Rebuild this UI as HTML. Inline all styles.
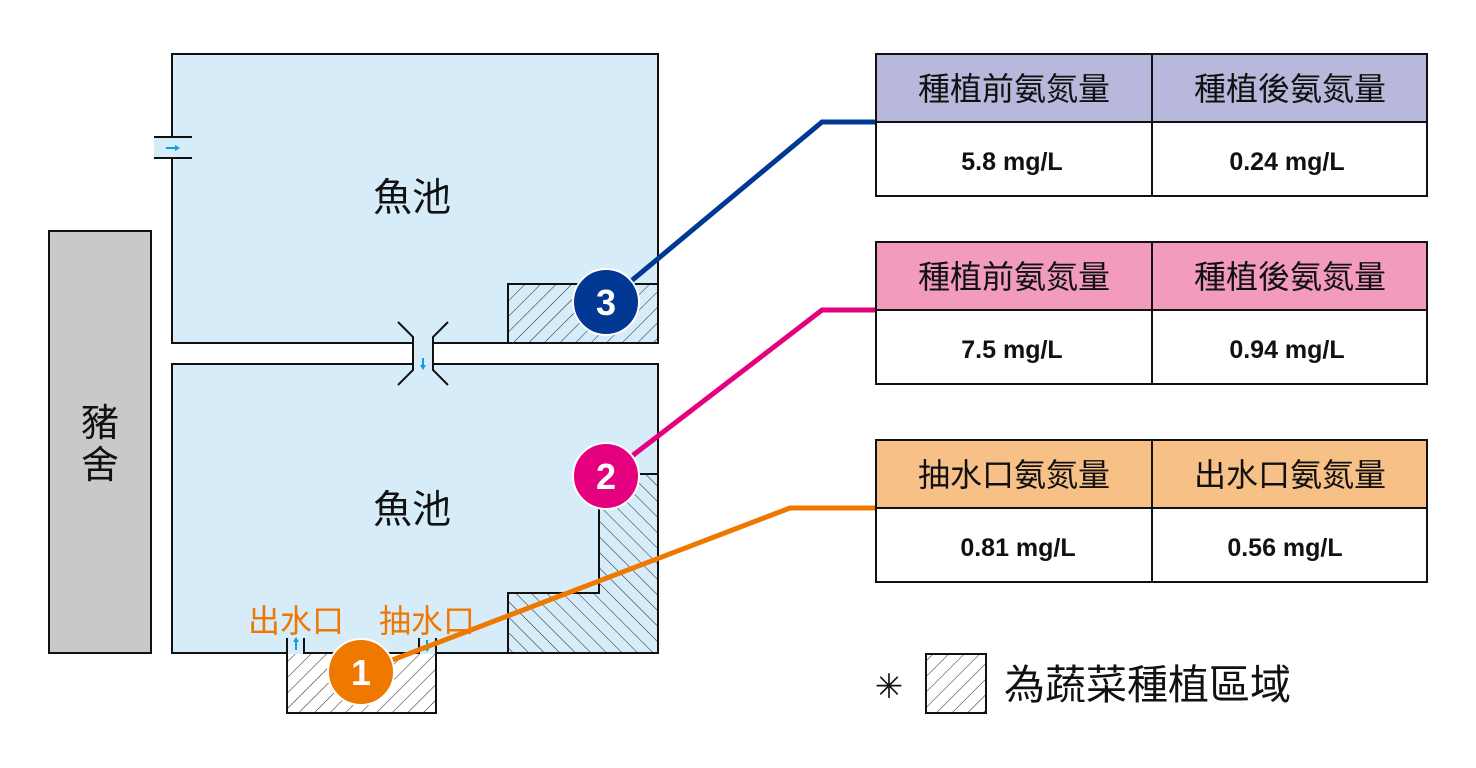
<!DOCTYPE html>
<html><head><meta charset="utf-8">
<style>
html,body{margin:0;padding:0;background:#fff;}
svg{display:block;}
text{font-family:"Liberation Sans","Noto Sans CJK TC",sans-serif;}
</style></head>
<body>
<svg width="1476" height="768" viewBox="0 0 1476 768" xmlns="http://www.w3.org/2000/svg">
<defs>
<pattern id="h1" patternUnits="userSpaceOnUse" width="11" height="11" patternTransform="rotate(45)">
<line x1="0" y1="0" x2="0" y2="11" stroke="#222" stroke-width="1"/>
</pattern>
<pattern id="h2" patternUnits="userSpaceOnUse" width="11" height="11" patternTransform="rotate(-45)">
<line x1="0" y1="0" x2="0" y2="11" stroke="#222" stroke-width="1"/>
</pattern>
</defs>

<rect x="49" y="231" width="102" height="422" fill="#c9c9ca" stroke="#111" stroke-width="2"/>
<text x="100" y="436" font-size="38" text-anchor="middle" fill="#111">豬</text>
<text x="100" y="478" font-size="38" text-anchor="middle" fill="#111">舍</text>

<rect x="172" y="54" width="486" height="289" fill="#d6ecf9" stroke="#111" stroke-width="2"/>
<rect x="154" y="137" width="20" height="21" fill="#d6ecf9"/>
<line x1="154" y1="137" x2="192" y2="137" stroke="#111" stroke-width="2"/>
<line x1="154" y1="158" x2="192" y2="158" stroke="#111" stroke-width="2"/>
<line x1="172" y1="138" x2="172" y2="157" stroke="#d6ecf9" stroke-width="3"/>
<line x1="166" y1="148" x2="176" y2="148" stroke="#0aa0dc" stroke-width="2"/>
<polygon points="180,148 175,145 175,151" fill="#0aa0dc"/>
<rect x="508" y="284" width="150" height="59" fill="url(#h1)" stroke="#111" stroke-width="2"/>
<text x="412" y="211" font-size="39" text-anchor="middle" fill="#111">魚池</text>

<rect x="172" y="364" width="486" height="289" fill="#d6ecf9" stroke="#111" stroke-width="2"/>
<polygon points="599,474 658,474 658,653 508,653 508,593 599,593" fill="url(#h2)" stroke="#111" stroke-width="2"/>
<text x="412" y="523" font-size="39" text-anchor="middle" fill="#111">魚池</text>

<rect x="413" y="340" width="20" height="28" fill="#d6ecf9"/>
<polyline points="398,322 413,337 413,370 398,385" fill="none" stroke="#111" stroke-width="2"/>
<polyline points="448,322 433,337 433,370 448,385" fill="none" stroke="#111" stroke-width="2"/>
<line x1="423" y1="358" x2="423" y2="366" stroke="#0aa0dc" stroke-width="2"/>
<polygon points="423,370 420,365 426,365" fill="#0aa0dc"/>

<rect x="287" y="653" width="149" height="60" fill="url(#h1)" stroke="#111" stroke-width="2"/>
<rect x="287" y="638" width="17" height="16" fill="#d6ecf9"/>
<rect x="419" y="638" width="17" height="16" fill="#d6ecf9"/>
<line x1="287" y1="638" x2="287" y2="655" stroke="#111" stroke-width="2"/>
<line x1="304" y1="638" x2="304" y2="654" stroke="#111" stroke-width="2"/>
<line x1="419" y1="638" x2="419" y2="654" stroke="#111" stroke-width="2"/>
<line x1="436" y1="638" x2="436" y2="655" stroke="#111" stroke-width="2"/>
<line x1="296" y1="641" x2="296" y2="650" stroke="#0aa0dc" stroke-width="2"/>
<polygon points="296,637 293,642 299,642" fill="#0aa0dc"/>
<line x1="427" y1="640" x2="427" y2="648" stroke="#0aa0dc" stroke-width="2"/>
<polygon points="427,652 424,647 430,647" fill="#0aa0dc"/>
<text x="296" y="632" font-size="32" text-anchor="middle" fill="#ee7800">出水口</text>
<text x="427" y="632" font-size="32" text-anchor="middle" fill="#ee7800">抽水口</text>

<polyline points="606,302 822,122 876,122" fill="none" stroke="#003893" stroke-width="5"/>
<polyline points="606,476 822,310 876,310" fill="none" stroke="#e4007f" stroke-width="5"/>
<polyline points="361,672 790,508 876,508" fill="none" stroke="#ee7800" stroke-width="5"/>

<circle cx="606" cy="302" r="33" fill="#003893" stroke="#fff" stroke-width="2"/>
<text x="606" y="315" font-size="36" text-anchor="middle" fill="#fff" font-weight="bold">3</text>
<circle cx="606" cy="476" r="33" fill="#e4007f" stroke="#fff" stroke-width="2"/>
<text x="606" y="489" font-size="36" text-anchor="middle" fill="#fff" font-weight="bold">2</text>
<circle cx="361" cy="672" r="33" fill="#ee7800" stroke="#fff" stroke-width="2"/>
<text x="361" y="685" font-size="36" text-anchor="middle" fill="#fff" font-weight="bold">1</text>

<g stroke="#111" stroke-width="2">
<rect x="876" y="54" width="551" height="68" fill="#b8b8dc"/>
<rect x="876" y="122" width="551" height="74" fill="#fff"/>
<line x1="1152" y1="54" x2="1152" y2="196"/>
<rect x="876" y="242" width="551" height="68" fill="#f29bbf"/>
<rect x="876" y="310" width="551" height="74" fill="#fff"/>
<line x1="1152" y1="242" x2="1152" y2="384"/>
<rect x="876" y="440" width="551" height="68" fill="#f7c087"/>
<rect x="876" y="508" width="551" height="74" fill="#fff"/>
<line x1="1152" y1="440" x2="1152" y2="582"/>
</g>
<g font-size="32" text-anchor="middle" fill="#111">
<text x="1014" y="100">種植前氨氮量</text>
<text x="1290" y="100">種植後氨氮量</text>
<text x="1014" y="288">種植前氨氮量</text>
<text x="1290" y="288">種植後氨氮量</text>
<text x="1014" y="486">抽水口氨氮量</text>
<text x="1290" y="486">出水口氨氮量</text>
</g>
<g font-size="25" font-weight="bold" text-anchor="middle" fill="#111">
<text x="1012" y="170">5.8 mg/L</text>
<text x="1287" y="170">0.24 mg/L</text>
<text x="1012" y="358">7.5 mg/L</text>
<text x="1287" y="358">0.94 mg/L</text>
<text x="1018" y="556">0.81 mg/L</text>
<text x="1285" y="556">0.56 mg/L</text>
</g>

<text x="889" y="698" font-size="34" text-anchor="middle" fill="#111">✳</text>
<rect x="926" y="654" width="60" height="59" fill="url(#h1)" stroke="#111" stroke-width="2"/>
<text x="1004" y="699" font-size="41" fill="#111">為蔬菜種植區域</text>
</svg>
</body></html>
